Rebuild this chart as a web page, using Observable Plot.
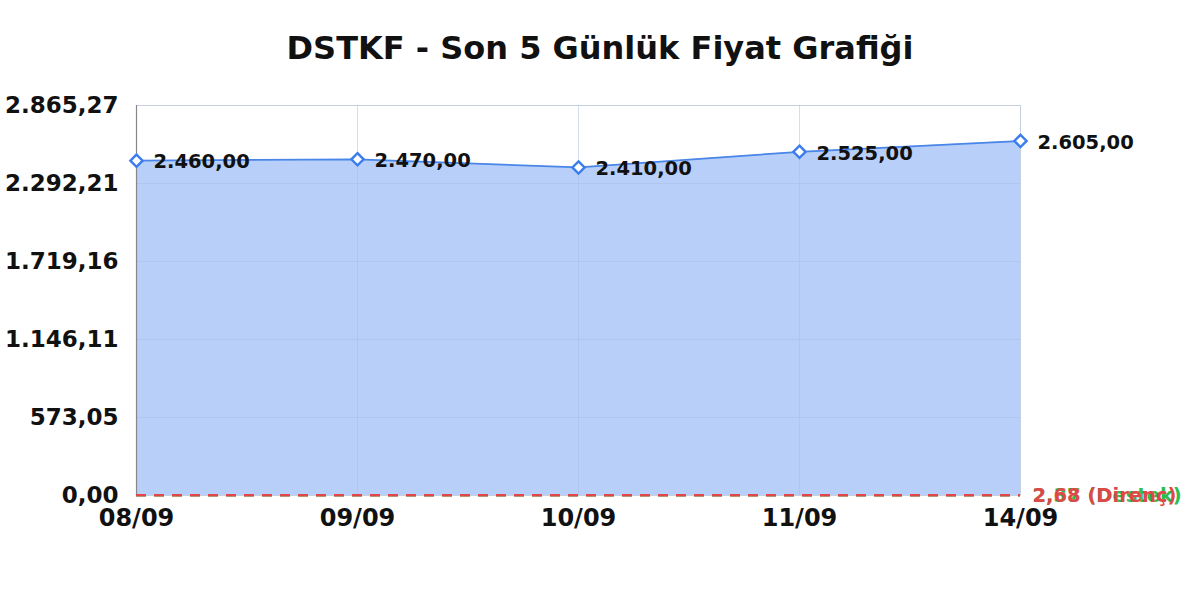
<!DOCTYPE html>
<html>
<head>
<meta charset="utf-8">
<script src="https://cdn.jsdelivr.net/npm/d3@7"></script>
<script src="https://cdn.jsdelivr.net/npm/@observablehq/plot@0.6"></script>
<style>
  html, body { margin: 0; padding: 0; background: #fff; }
  body { width: 1200px; height: 600px; overflow: hidden; font-family: "DejaVu Sans", sans-serif; }
  #title { height: 80px; box-sizing: border-box; padding-top: 28px; text-align: center; font-size: 32px; font-weight: bold; color: #111; line-height: 40px; }
  svg { overflow: visible; display: block; }
</style>
</head>
<body>
<div id="title">DSTKF - Son 5 Günlük Fiyat Grafiği</div>
<div id="chart"></div>
<script>
const dates = ["08/09", "09/09", "10/09", "11/09", "14/09"];
const prices = [2460, 2470, 2410, 2525, 2605];
const yTicks = [0, 573.05, 1146.11, 1719.16, 2292.21, 2865.27];
const yMax = 2865.27;
const resistanceValue = 2.68;
const supportValue = 2.37;
const resistanceLabel = "(Direnç)";
const supportLabel = "(Destek)";

function fmtTR(v, digits) {
  const s = Math.abs(v).toFixed(digits);
  let [i, f] = s.split(".");
  i = i.replace(/\B(?=(\d{3})+(?!\d))/g, ".");
  return (v < 0 ? "-" : "") + i + (f ? "," + f : "");
}

const data = dates.map((d, i) => ({date: d, price: prices[i]}));
const levels = [
  {name: "support", value: supportValue, label: fmtTR(supportValue, 2) + " " + supportLabel, color: "#2ebd4e"},
  {name: "resistance", value: resistanceValue, label: fmtTR(resistanceValue, 2) + " " + resistanceLabel, color: "#e04848"}
];
const lastDate = dates[dates.length - 1];

const chart = Plot.plot({
  width: 1200,
  height: 520,
  marginTop: 25,
  marginLeft: 136,
  marginRight: 180,
  marginBottom: 105,
  style: {fontFamily: "DejaVu Sans, sans-serif", background: "#fff"},
  x: {type: "point", domain: dates, padding: 0, label: null},
  y: {domain: [0, yMax], label: null},
  marks: [
    Plot.frame({stroke: "#e3e3e3"}),
    Plot.areaY(data, {x: "date", y: "price", fill: "#b7cff9"}),
    Plot.gridY(yTicks, {stroke: "#a9bde0", strokeOpacity: 0.5}),
    Plot.gridX(dates, {stroke: "#a9bde0", strokeOpacity: 0.5}),
    Plot.ruleX([dates[0]], {stroke: "#888", strokeWidth: 1.2}),
    Plot.axisY(yTicks, {tickSize: 0, tickPadding: 18, fontSize: 23, fontWeight: "bold", fill: "#111", tickFormat: d => fmtTR(d, 2), label: null}),
    Plot.axisX(dates, {tickSize: 0, tickPadding: 13, fontSize: 24, fontWeight: "bold", fill: "#111", label: null}),
    Plot.line(data, {x: "date", y: "price", stroke: "#4a86e8", strokeWidth: 1.8}),
    Plot.dot(data, {x: "date", y: "price", symbol: "diamond2", r: 5.5, stroke: "#3b7ded", strokeWidth: 2.4, fill: "#fff"}),
    Plot.text(data, {x: "date", y: "price", text: d => fmtTR(d.price, 2), textAnchor: "start", dx: 17, dy: 1.5, fontSize: 19.5, fontWeight: "bold", fill: "#111"}),
    Plot.ruleY(levels, {y: "value", stroke: "color", strokeWidth: 2.5, strokeDasharray: "10,8"}),
    Plot.text(levels, {x: () => lastDate, y: "value", text: "label", fill: "color", textAnchor: "start", dx: 12, dy: 1, fontSize: 19.5, fontWeight: "bold"})
  ]
});
document.getElementById("chart").appendChild(chart);
</script>
</body>
</html>
